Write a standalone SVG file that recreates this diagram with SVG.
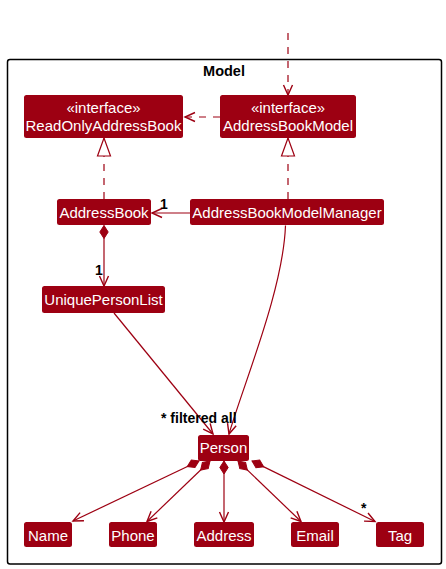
<svg xmlns="http://www.w3.org/2000/svg" width="446" height="569" viewBox="0 0 446 569">
<style>
.node rect{fill:#9D0012;stroke:none}
.node text{fill:#FFFFFF;font-family:"Liberation Sans",Arial,sans-serif;font-size:15px;text-anchor:middle}
.ln{fill:none;stroke:#9D0012;stroke-width:1.2}
.dash{stroke-dasharray:7,7}
.lbl{fill:#000000;font-family:"Liberation Sans",Arial,sans-serif;font-size:14px;font-weight:bold}
</style>
<defs>
<marker id="arrow" markerUnits="userSpaceOnUse" orient="auto" refX="0" refY="0" markerWidth="20" markerHeight="20" overflow="visible">
<path d="M-10,-4.5 L0,0 L-10,4.5" fill="none" stroke="#9D0012" stroke-width="1.4"/>
</marker>
<marker id="diamond" markerUnits="userSpaceOnUse" orient="auto" refX="0" refY="0" markerWidth="20" markerHeight="20" overflow="visible">
<path d="M0,0 L6.5,-4.2 L13,0 L6.5,4.2 Z" fill="#9D0012" stroke="#9D0012" stroke-width="1"/>
</marker>
<marker id="realize" markerUnits="userSpaceOnUse" orient="auto" refX="0" refY="0" markerWidth="30" markerHeight="30" overflow="visible">
<path d="M0,0 L-18,-6.5 L-18,6.5 Z" fill="#FFFFFF" stroke="#9D0012" stroke-width="1.2"/>
</marker>
</defs>
<rect width="446" height="569" fill="#FFFFFF"/>
<g id="package-model">
<rect x="7.5" y="59.5" width="434" height="504.5" rx="2.5" fill="none" stroke="#000000" stroke-width="1.5"/>
<text x="224" y="76" style="font-family:'Liberation Sans',Arial,sans-serif;font-size:14.5px;font-weight:bold;text-anchor:middle">Model</text>
</g>
<g id="connectors">
<path class="ln dash" d="M288,33 L288,95" marker-end="url(#arrow)"/>
<path class="ln dash" d="M220,117 L185,117" marker-end="url(#arrow)"/>
<path class="ln dash" d="M104,199 L104,138" marker-end="url(#realize)"/>
<path class="ln dash" d="M288,199 L288,138" marker-end="url(#realize)"/>
<path class="ln" d="M190,213 L152,213" marker-end="url(#arrow)"/>
<path class="ln" d="M104,225.5 L104,286" marker-start="url(#diamond)" marker-end="url(#arrow)"/>
<path class="ln" d="M114,313 L213,434" marker-end="url(#arrow)"/>
<path class="ln" d="M285.5,225.5 C283,290 245,380 229,434" marker-end="url(#arrow)"/>
<path class="ln" d="M199,461 L73,521" marker-start="url(#diamond)" marker-end="url(#arrow)"/>
<path class="ln" d="M210,461 L147,521.5" marker-start="url(#diamond)" marker-end="url(#arrow)"/>
<path class="ln" d="M224,461 L224,522" marker-start="url(#diamond)" marker-end="url(#arrow)"/>
<path class="ln" d="M238,461 L301,521.5" marker-start="url(#diamond)" marker-end="url(#arrow)"/>
<path class="ln" d="M252,461 L375,521.5" marker-start="url(#diamond)" marker-end="url(#arrow)"/>
<text class="lbl" x="160" y="208.5">1</text>
<text class="lbl" x="95" y="274.5">1</text>
<text class="lbl" x="161" y="422.5">* filtered</text>
<text class="lbl" x="221" y="422.5">all</text>
<text class="lbl" x="361" y="513">*</text>
</g>
<g id="ReadOnlyAddressBook" class="node">
<rect x="24" y="95" width="159" height="43" rx="2.5"/>
<text x="103.5" y="113">«interface»</text>
<text x="103.5" y="131">ReadOnlyAddressBook</text>
</g>
<g id="AddressBookModel" class="node">
<rect x="220" y="95" width="136" height="43" rx="2.5"/>
<text x="288" y="113">«interface»</text>
<text x="288" y="131">AddressBookModel</text>
</g>
<g id="AddressBook" class="node">
<rect x="57" y="199" width="94" height="26" rx="2.5"/>
<text x="104" y="217.5">AddressBook</text>
</g>
<g id="AddressBookModelManager" class="node">
<rect x="190" y="199" width="194" height="26" rx="2.5"/>
<text x="287" y="217.5">AddressBookModelManager</text>
</g>
<g id="UniquePersonList" class="node">
<rect x="42" y="286" width="123" height="27" rx="2.5"/>
<text x="103.5" y="305">UniquePersonList</text>
</g>
<g id="Person" class="node">
<rect x="198" y="435" width="51" height="26" rx="2.5"/>
<text x="223.5" y="453">Person</text>
</g>
<g id="Name" class="node">
<rect x="24" y="522" width="48" height="25" rx="2.5"/>
<text x="48" y="540.5">Name</text>
</g>
<g id="Phone" class="node">
<rect x="109" y="522" width="48" height="25" rx="2.5"/>
<text x="133" y="540.5">Phone</text>
</g>
<g id="Address" class="node">
<rect x="194" y="522" width="60" height="25" rx="2.5"/>
<text x="224" y="540.5">Address</text>
</g>
<g id="Email" class="node">
<rect x="291" y="522" width="48" height="25" rx="2.5"/>
<text x="315" y="540.5">Email</text>
</g>
<g id="Tag" class="node">
<rect x="376" y="522" width="48" height="25" rx="2.5"/>
<text x="400" y="540.5">Tag</text>
</g>
</svg>
